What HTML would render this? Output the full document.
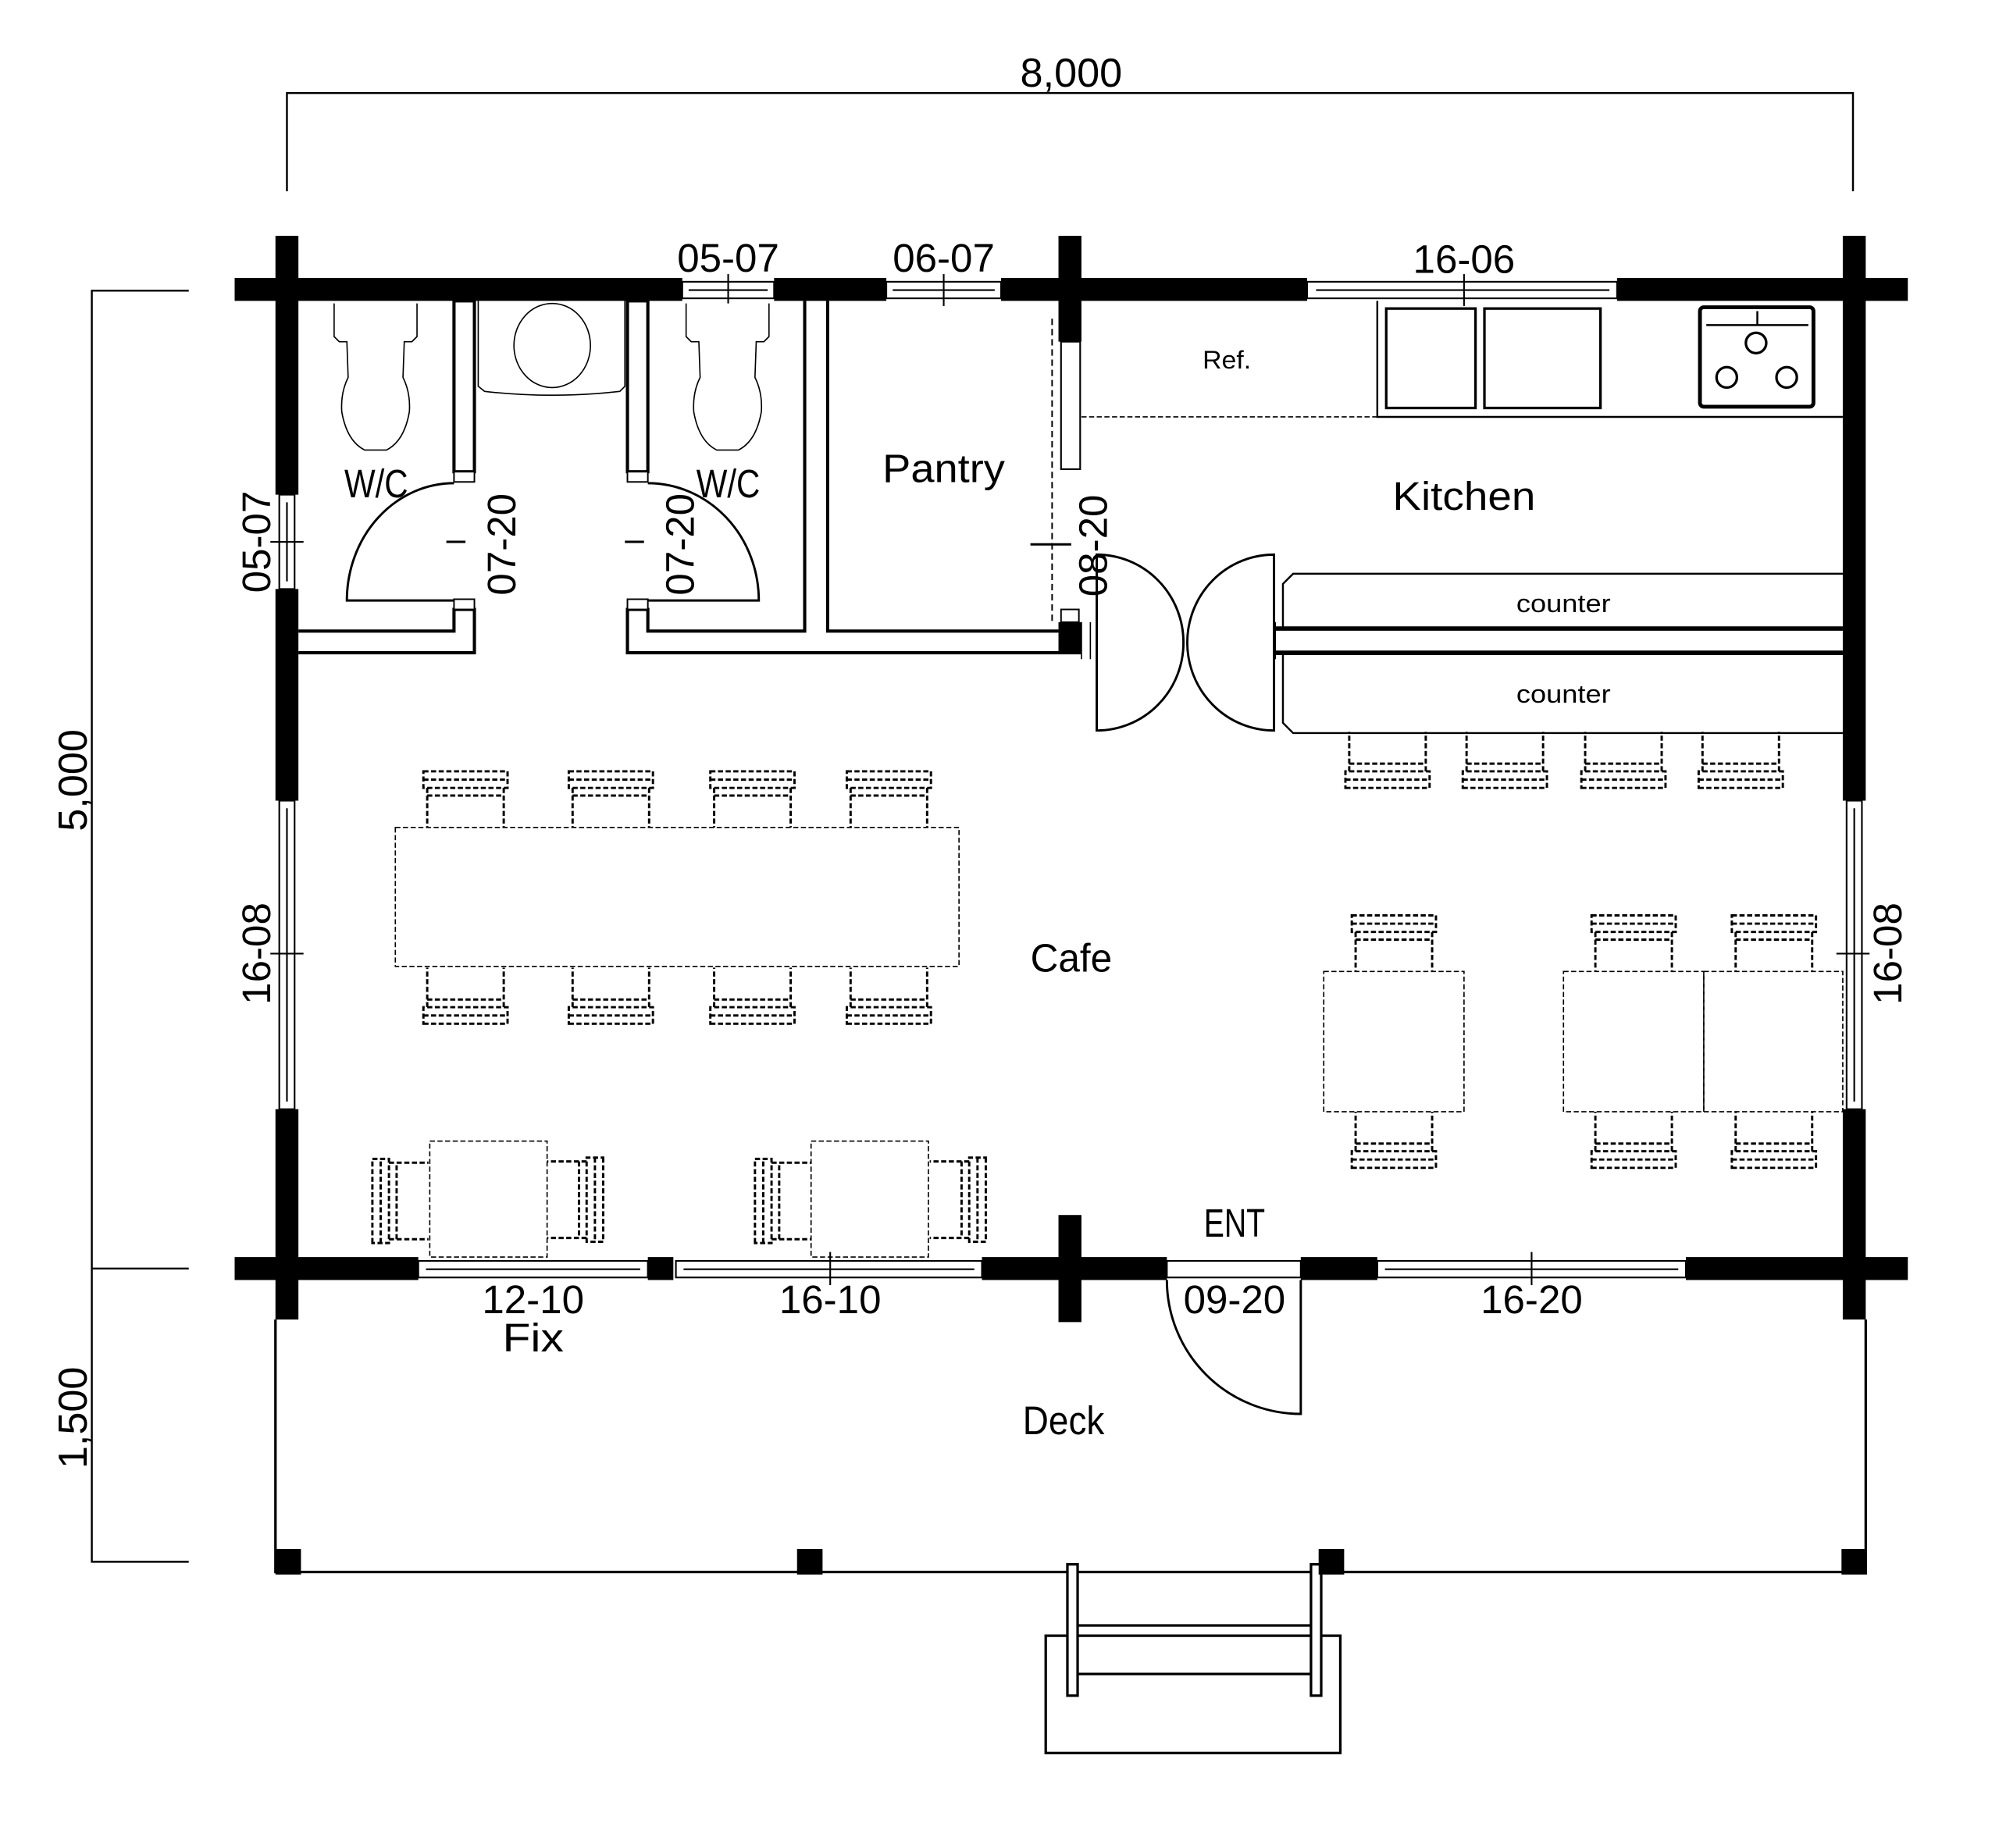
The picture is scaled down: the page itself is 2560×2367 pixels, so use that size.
<!DOCTYPE html>
<html><head><meta charset="utf-8"><style>
html,body{margin:0;padding:0;background:#fff}
svg{display:block}
text{font-family:"Liberation Sans","Noto Sans CJK JP",sans-serif;fill:#000}
</style></head><body>
<svg width="2560" height="2367" viewBox="0 0 1567.5 1449.5" preserveAspectRatio="none" xmlns="http://www.w3.org/2000/svg">
<defs>
<g id="ch" fill="none" stroke="#000" stroke-width="1.8" stroke-dasharray="4 2">
<rect x="0" y="0" width="66" height="13"/>
<line x1="0" y1="6.5" x2="66" y2="6.5"/>
<path d="M3 13 V44 M63 13 V44 M3 19 H63"/>
</g>
<g id="toilet" fill="#fff" stroke="#000" stroke-width="1">
<path d="M0 0 V26 L4 30 H10 L11 58 Q5 70 6 85 Q10 108 24 115 H41 Q55 108 59 85 Q60 70 54 58 L55 30 H61 L65 26 V0"/>
</g>
</defs>
<rect width="1567.5" height="1449.5" fill="#fff"/>

<g stroke="#000" stroke-width="1.5" fill="none">
<path d="M225 150 V73 H1453 V150"/>
<path d="M148 228 H72 V1225 H148 M72 995 H148"/>
</g>
<text x="840" y="68" font-size="32" text-anchor="middle" textLength="80" lengthAdjust="spacingAndGlyphs">8,000</text>
<text transform="translate(68,612) rotate(-90)" font-size="32" text-anchor="middle" textLength="80" lengthAdjust="spacingAndGlyphs">5,000</text>
<text transform="translate(68,1112) rotate(-90)" font-size="32" text-anchor="middle" textLength="80" lengthAdjust="spacingAndGlyphs">1,500</text>

<g fill="#000">
<rect x="184" y="218" width="351" height="18"/>
<rect x="607" y="218" width="88" height="18"/>
<rect x="785" y="218" width="240" height="18"/>
<rect x="1268" y="218" width="228" height="18"/>
<rect x="216" y="185" width="18" height="203"/>
<rect x="216" y="462" width="18" height="166"/>
<rect x="216" y="870" width="18" height="165"/>
<rect x="1445" y="185" width="18" height="443"/>
<rect x="1445" y="870" width="18" height="165"/>
<rect x="830" y="185" width="18" height="83"/>
<rect x="184" y="986" width="144" height="18"/>
<rect x="508" y="986" width="20" height="18"/>
<rect x="770" y="986" width="145" height="18"/>
<rect x="830" y="953" width="18" height="84"/>
<rect x="1020" y="986" width="60" height="18"/>
<rect x="1322" y="986" width="174" height="18"/>
<rect x="830" y="488" width="18" height="24"/>
</g>
<g fill="#fff" stroke="#000" stroke-width="1.3">
<rect x="535" y="221" width="72" height="13"/><line x1="540" y1="227.5" x2="602" y2="227.5"/><line x1="571" y1="215" x2="571" y2="240"/>
<rect x="695" y="221" width="90" height="13"/><line x1="700" y1="227.5" x2="780" y2="227.5"/><line x1="740" y1="215" x2="740" y2="240"/>
<rect x="1025" y="221" width="243" height="13"/><line x1="1032" y1="227.5" x2="1262" y2="227.5"/><line x1="1148" y1="215" x2="1148" y2="240"/>
<rect x="219" y="388" width="12" height="74"/><line x1="225" y1="394" x2="225" y2="456"/><line x1="212" y1="425" x2="238" y2="425"/>
<rect x="219" y="628" width="12" height="242"/><line x1="225" y1="634" x2="225" y2="864"/><line x1="212" y1="748" x2="238" y2="748"/>
<rect x="1448" y="628" width="12" height="242"/><line x1="1454" y1="634" x2="1454" y2="864"/><line x1="1440" y1="748" x2="1466" y2="748"/>
<rect x="328" y="989" width="180" height="13"/><line x1="334" y1="995.5" x2="502" y2="995.5"/>
<rect x="530" y="989" width="240" height="13"/><line x1="536" y1="995.5" x2="764" y2="995.5"/><line x1="651" y1="982" x2="651" y2="1008"/>
<rect x="915" y="989" width="105" height="13"/>
<rect x="1080" y="989" width="242" height="13"/><line x1="1086" y1="995.5" x2="1316" y2="995.5"/><line x1="1201" y1="982" x2="1201" y2="1008"/>
<rect x="832" y="268" width="15" height="100"/>
</g>

<g fill="none" stroke="#000" stroke-width="2.5">
<rect x="356" y="236" width="16" height="134" fill="#fff"/>
<rect x="492" y="236" width="16" height="134" fill="#fff"/>
<path d="M234 495 H356 V478 H372 V512 H234"/>
<path d="M848 512 H492 V478 H508 V495 H631 V236 M649 236 V495 H830"/>
</g>
<g fill="#fff" stroke="#000" stroke-width="1.2">
<rect x="356" y="370" width="16" height="8"/><rect x="492" y="370" width="16" height="8"/>
<rect x="356" y="470" width="16" height="8"/><rect x="492" y="470" width="16" height="8"/>
<rect x="832" y="478" width="14" height="10"/>
</g>
<g fill="none" stroke="#000" stroke-width="1.8">
<path d="M356 379 A84 92 0 0 0 272 471 H356"/>
<path d="M508 379 A87 92 0 0 1 595 471 H508"/>
<path d="M350 425 H365 M490 425 H505"/>
<path d="M915 1004 A105 105 0 0 0 1020 1109 V1004"/>
<path d="M860 435 A68 69 0 0 1 860 573 Z"/>
<path d="M999 435 A68 69 0 0 0 999 573 Z"/>
<path d="M808 427 H840"/>
</g>
<use href="#toilet" x="262" y="238"/>
<use href="#toilet" x="538" y="238"/>
<path d="M375 236 V303 L380 307 Q433 313 486 307 L490 303 V236" fill="none" stroke="#000" stroke-width="1"/>
<ellipse cx="433" cy="271" rx="30" ry="33" fill="none" stroke="#000" stroke-width="1"/>
<g fill="none" stroke="#000">
<path d="M825 250 V490" stroke-width="1.2" stroke-dasharray="5 3"/>
<path d="M848 327 H1080" stroke-width="1" stroke-dasharray="4 2"/>
<path d="M1080 236 V327 H1445" stroke-width="1.5"/>
<rect x="1087" y="242" width="70" height="78" stroke-width="2"/>
<rect x="1164" y="242" width="91" height="78" stroke-width="2"/>
<rect x="1333" y="241" width="89" height="78" rx="3" stroke-width="3"/>
<path d="M1338 255 H1418 M1378 244 V255" stroke-width="1.5"/>
<circle cx="1377" cy="269" r="8" stroke-width="2"/>
<circle cx="1354" cy="296" r="8" stroke-width="2"/>
<circle cx="1401" cy="296" r="8" stroke-width="2"/>
<path d="M1445 450 H1014 L1006 458 V493" stroke-width="1.5"/>
<path d="M1006 512 V567 L1014 575 H1445" stroke-width="1.5"/>
<path d="M1000 493 H1445 M1000 512 H1445" stroke-width="3.5"/>
<path d="M1000 488 V517 M848 488 V517 M855 488 V517" stroke-width="1"/>
</g>
<g fill="none" stroke="#000" stroke-width="1" stroke-dasharray="4 2">
<rect x="310" y="649" width="442" height="109"/>
<rect x="1038" y="762" width="110" height="110"/>
<rect x="1226" y="762" width="110" height="110"/>
<rect x="1336" y="762" width="109" height="110"/>
<rect x="337" y="895" width="92" height="91"/>
<rect x="636" y="895" width="92" height="91"/>
</g>
<use href="#ch" transform="translate(332,605)"/>
<use href="#ch" transform="translate(446,605)"/>
<use href="#ch" transform="translate(557,605)"/>
<use href="#ch" transform="translate(664,605)"/>
<use href="#ch" transform="translate(332,803) scale(1,-1)"/>
<use href="#ch" transform="translate(446,803) scale(1,-1)"/>
<use href="#ch" transform="translate(557,803) scale(1,-1)"/>
<use href="#ch" transform="translate(664,803) scale(1,-1)"/>
<use href="#ch" transform="translate(1055,618) scale(1,-1)"/>
<use href="#ch" transform="translate(1147,618) scale(1,-1)"/>
<use href="#ch" transform="translate(1240,618) scale(1,-1)"/>
<use href="#ch" transform="translate(1332,618) scale(1,-1)"/>
<use href="#ch" transform="translate(1060,718)"/>
<use href="#ch" transform="translate(1248,718)"/>
<use href="#ch" transform="translate(1358,718)"/>
<use href="#ch" transform="translate(1060,916) scale(1,-1)"/>
<use href="#ch" transform="translate(1248,916) scale(1,-1)"/>
<use href="#ch" transform="translate(1358,916) scale(1,-1)"/>
<use href="#ch" transform="translate(292,975) rotate(-90)"/>
<use href="#ch" transform="translate(473,908) rotate(90)"/>
<use href="#ch" transform="translate(592,975) rotate(-90)"/>
<use href="#ch" transform="translate(773,908) rotate(90)"/>

<g fill="none" stroke="#000" stroke-width="2">
<path d="M216 1035 V1233 H1463 V1035"/>
<rect x="820" y="1283" width="231" height="92"/>
<path d="M845 1275 H1028 M845 1313 H1028"/>
<rect x="837" y="1227" width="8" height="103" fill="#fff"/>
<rect x="1028" y="1227" width="8" height="103" fill="#fff"/>
</g>
<g fill="#000">
<rect x="216" y="1215" width="20" height="20"/>
<rect x="625" y="1215" width="20" height="20"/>
<rect x="1034" y="1215" width="20" height="20"/>
<rect x="1444" y="1215" width="20" height="20"/>
</g>

<g font-size="31" text-anchor="middle">
<text x="571" y="213" textLength="80" lengthAdjust="spacingAndGlyphs">05-07</text>
<text x="740" y="213" textLength="80" lengthAdjust="spacingAndGlyphs">06-07</text>
<text x="1148" y="214" textLength="80" lengthAdjust="spacingAndGlyphs">16-06</text>
<text x="295" y="390" textLength="50" lengthAdjust="spacingAndGlyphs">W/C</text>
<text x="571" y="390" textLength="50" lengthAdjust="spacingAndGlyphs">W/C</text>
<text transform="translate(212,425) rotate(-90)" textLength="80" lengthAdjust="spacingAndGlyphs">05-07</text>
<text transform="translate(404,427) rotate(-90)" textLength="80" lengthAdjust="spacingAndGlyphs">07-20</text>
<text transform="translate(544,427) rotate(-90)" textLength="80" lengthAdjust="spacingAndGlyphs">07-20</text>
<text transform="translate(868,428) rotate(-90)" textLength="80" lengthAdjust="spacingAndGlyphs">08-20</text>
<text transform="translate(212,748) rotate(-90)" textLength="80" lengthAdjust="spacingAndGlyphs">16-08</text>
<text transform="translate(1491,748) rotate(-90)" textLength="80" lengthAdjust="spacingAndGlyphs">16-08</text>
<text x="740" y="378" textLength="96" lengthAdjust="spacingAndGlyphs">Pantry</text>
<text x="1148" y="400" textLength="112" lengthAdjust="spacingAndGlyphs">Kitchen</text>
<text x="840" y="762" textLength="64" lengthAdjust="spacingAndGlyphs">Cafe</text>
<text x="968" y="970" textLength="48" lengthAdjust="spacingAndGlyphs">ENT</text>
<text x="834" y="1125" textLength="64" lengthAdjust="spacingAndGlyphs">Deck</text>
<text x="418" y="1030" textLength="80" lengthAdjust="spacingAndGlyphs">12-10</text>
<text x="418" y="1060" textLength="48" lengthAdjust="spacingAndGlyphs">Fix</text>
<text x="651" y="1030" textLength="80" lengthAdjust="spacingAndGlyphs">16-10</text>
<text x="968" y="1030" textLength="80" lengthAdjust="spacingAndGlyphs">09-20</text>
<text x="1201" y="1030" textLength="80" lengthAdjust="spacingAndGlyphs">16-20</text>
</g>
<g font-size="20" text-anchor="middle">
<text x="962" y="289" textLength="38" lengthAdjust="spacingAndGlyphs">Ref.</text>
<text x="1226" y="480" textLength="74" lengthAdjust="spacingAndGlyphs">counter</text>
<text x="1226" y="551" textLength="74" lengthAdjust="spacingAndGlyphs">counter</text>
</g>
</svg>
</body></html>
